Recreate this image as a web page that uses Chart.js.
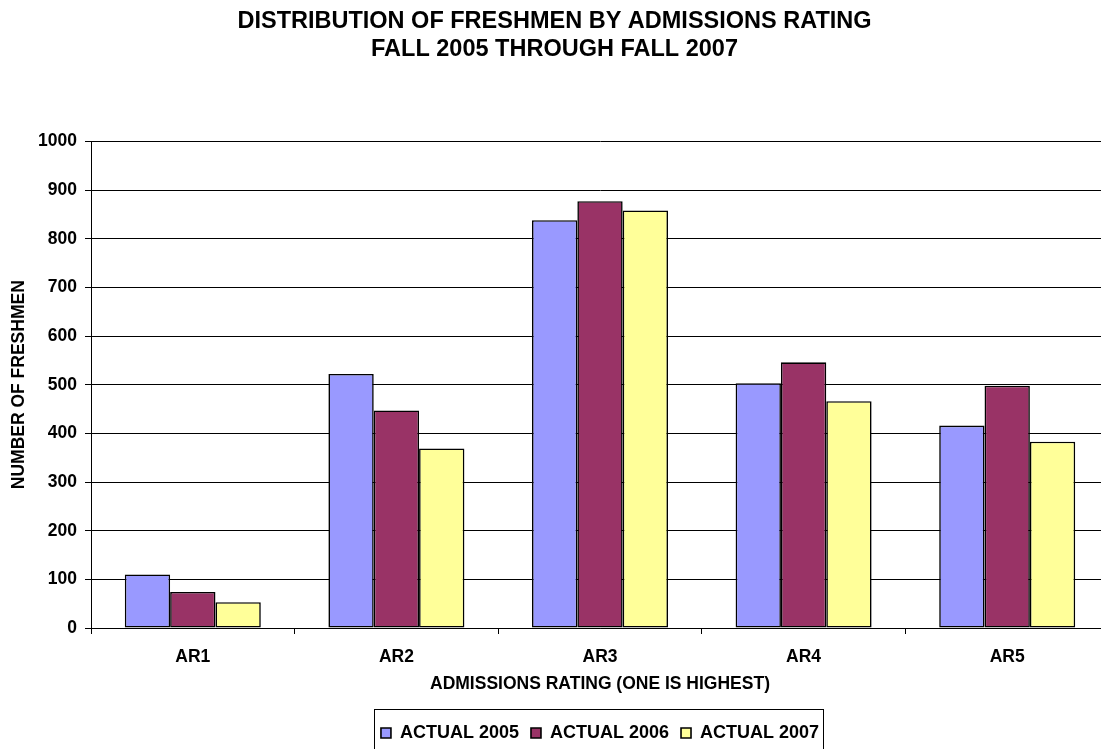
<!DOCTYPE html>
<html>
<head>
<meta charset="utf-8">
<script src="https://cdn.jsdelivr.net/npm/chart.js@4/dist/chart.umd.min.js"></script>
<style>
    html, body { margin: 0; padding: 0; background: #fff; overflow: hidden; }
    #wrap { width: 1110px; height: 749px; }
</style>
</head>
<body>
<div id="wrap"><canvas id="chartFreshmen" width="1110" height="749"></canvas></div>
<script>
// Data
const categories = ['AR1', 'AR2', 'AR3', 'AR4', 'AR5'];
const actual2005 = [110, 522, 838, 503, 416];
const actual2006 = [74, 447, 877, 546, 498];
const actual2007 = [53, 369, 858, 466, 383];
const yTicks = [0, 100, 200, 300, 400, 500, 600, 700, 800, 900, 1000];

const FONT = '"Liberation Sans", Arial, sans-serif';

// move the legend under the plot area and box it like Excel does
const legendBox = {
    id: 'legendBox',
    afterLayout(chart) {
        const l = chart.legend;
        l.left = chart.chartArea.left;
        l.right = chart.chartArea.right;
        l.width = l.right - l.left;
    },
    afterDraw(chart) {
        const l = chart.legend;
        const pad = l.options.labels.padding;
        const w = l.lineWidths[0];
        const x0 = (l.left + pad + l.right - w) / 2;
        const ctx = chart.ctx;
        ctx.save();
        ctx.strokeStyle = '#000';
        ctx.lineWidth = 1;
        ctx.strokeRect(Math.round(x0 - 7) + 0.5, Math.round(l.top - 3) + 0.5, Math.round(w - pad + 11), 60);
        ctx.restore();
    }
};

const ctx = document.getElementById('chartFreshmen').getContext('2d');
new Chart(ctx, {
    type: 'bar',
    data: {
        labels: categories,
        datasets: [
            { label: 'ACTUAL 2005', data: actual2005, backgroundColor: '#9999FF' },
            { label: 'ACTUAL 2006', data: actual2006, backgroundColor: '#993366' },
            { label: 'ACTUAL 2007', data: actual2007, backgroundColor: '#FFFF99' }
        ]
    },
    options: {
        responsive: false,
        animation: false,
        devicePixelRatio: 1,
        layout: { padding: { left: 0, right: 1, top: 0, bottom: -3 } },
        datasets: {
            bar: {
                borderColor: '#000',
                borderWidth: 1.6,
                borderSkipped: false,
                categoryPercentage: 0.668,
                barPercentage: 1
            }
        },
        plugins: {
            title: {
                display: true,
                text: ['DISTRIBUTION OF FRESHMEN BY ADMISSIONS RATING', 'FALL 2005 THROUGH FALL 2007'],
                color: '#000',
                font: { family: FONT, size: 23.5, weight: 'bold', lineHeight: 1.2 },
                padding: { top: 7, bottom: 78 }
            },
            legend: {
                position: 'bottom',
                labels: {
                    color: '#000',
                    font: { family: FONT, size: 18, weight: 'bold' },
                    boxWidth: 10,
                    boxHeight: 10,
                    padding: 12,
                    useBorderRadius: false
                }
            },
            tooltip: { enabled: false }
        },
        scales: {
            x: {
                border: { color: '#000', width: 1 },
                grid: { display: true, drawOnChartArea: false, color: '#000', tickLength: 6 },
                ticks: { color: '#000', font: { family: FONT, size: 17.5, weight: 'bold' }, padding: 13 },
                title: {
                    display: true,
                    text: 'ADMISSIONS RATING (ONE IS HIGHEST)',
                    color: '#000',
                    font: { family: FONT, size: 17.5, weight: 'bold' },
                    padding: { top: -7, bottom: 17 }
                }
            },
            y: {
                min: 0,
                max: 1000,
                afterBuildTicks(scale) {
                    scale.ticks = yTicks.map(v => ({ value: v }));
                },
                afterFit(scale) {
                    scale.width = 91;
                },
                border: { color: '#000', width: 1 },
                grid: { color: '#000', tickLength: 6 },
                ticks: {
                    color: '#000',
                    font: { family: FONT, size: 17.5, weight: 'bold' },
                    padding: 8,
                    callback: value => String(value)
                },
                title: {
                    display: true,
                    text: 'NUMBER OF FRESHMEN',
                    color: '#000',
                    font: { family: FONT, size: 17.5, weight: 'bold' },
                    padding: { top: 9, bottom: 4 }
                }
            }
        }
    },
    plugins: [legendBox]
});
</script>
</body>
</html>
